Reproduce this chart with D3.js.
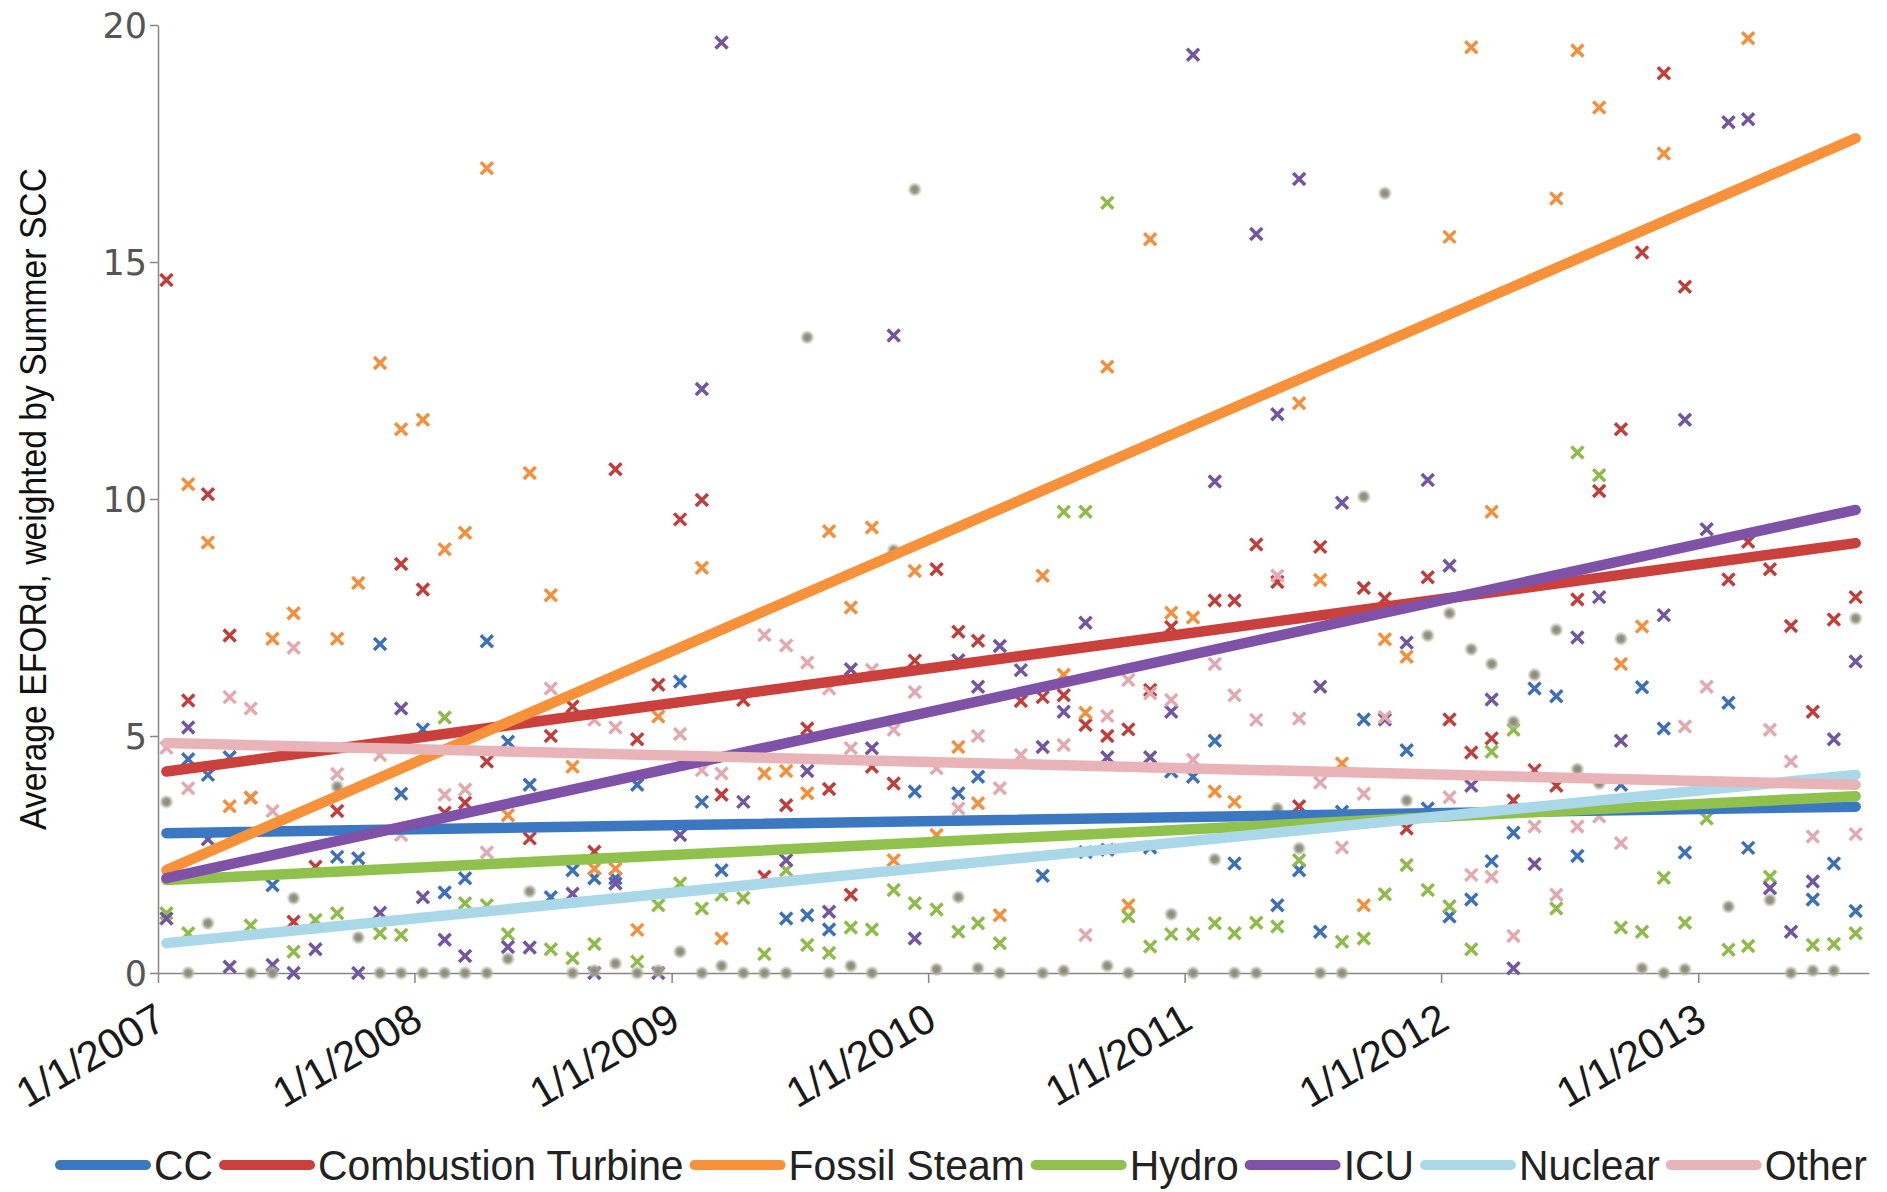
<!DOCTYPE html>
<html>
<head>
<meta charset="utf-8">
<script src="https://cdn.jsdelivr.net/npm/d3@7"></script>
<style>
  html, body { margin: 0; padding: 0; background: #ffffff; }
  svg { display: block; }
</style>
</head>
<body>
<svg id="chart" width="1887" height="1192"></svg>
<script>
// Monthly observations, Jan 2007 – Aug 2013 (80 months)
const months = d3.range(80).map(i => new Date(2007, i, 13));

const seriesNames = ["CC", "Combustion Turbine", "Fossil Steam", "Hydro", "ICU", "Nuclear", "Other"];

const ccValues = [
  null, 4.51, 4.18, 4.55, null, 1.85, null, null, 2.45, 2.42,
  6.94, 3.78, 5.14, 1.7, 2.0, 7.0, 4.88, 3.97, 1.6, 2.17,
  2.0, 2.0, 3.97, null, 6.15, 3.61, 2.17, null, null, 1.15,
  1.22, 0.92, null, null, null, 3.83, null, 3.79, 4.14, null,
  null, 2.05, null, 2.55, 2.6, null, 2.65, 4.25, 4.14, 4.9,
  2.31, null, 1.43, 2.17, 0.87, 3.4, 5.35, null, 4.7, 3.47,
  1.19, 1.55, 2.36, 2.96, 6.0, 5.84, 2.47, null, 3.97, 6.03,
  5.16, 2.54, null, 5.7, 2.64, null, null, 1.55, 2.31, 1.31
];

const ctValues = [
  14.62, 5.75, 10.1, 7.12, 3.7, null, 1.08, 2.24, 3.42, null,
  null, 8.63, 8.09, 3.38, 3.59, 4.46, null, 2.84, 5.0, 5.62,
  2.56, 10.63, 4.93, 6.08, 9.57, 9.98, 3.76, 5.76, 2.03, 3.54,
  5.16, 3.88, 1.65, 4.35, 4.0, 6.59, 8.52, 7.2, 7.01, null,
  5.74, 5.82, 5.86, 5.23, 5.0, 5.14, 5.97, 7.3, null, 7.86,
  7.86, 9.04, 8.25, 3.52, 8.99, null, 8.12, 7.9, 3.05, 8.35,
  5.35, 4.65, 4.95, 3.64, 4.28, 3.95, 7.88, 10.17, 11.47, 15.2,
  18.98, 14.48, null, 8.3, 9.1, 8.52, 7.32, 5.51, 7.46, 7.93
];

const fsValues = [
  null, 10.31, 9.08, 3.52, 3.7, 7.05, 7.59, null, 7.05, 8.23,
  12.87, 11.47, 11.67, 8.94, 9.29, 16.98, 3.33, 10.55, 7.97, 4.35,
  2.2, 2.2, 0.91, 5.41, null, 8.55, 0.73, null, 4.21, 4.26,
  3.79, 9.32, 7.71, 9.4, 2.38, 8.48, 2.91, 4.77, 3.58, 1.22,
  null, 8.38, 6.29, 5.49, 12.79, 1.43, 15.48, 7.6, 7.5, 3.83,
  3.61, null, null, 12.02, 8.29, 4.42, 1.43, 7.04, 6.67, null,
  15.53, 19.53, 9.73, null, null, 16.34, 19.46, 18.26, 6.52, 7.31,
  17.29, null, null, null, 19.72, null, null, null, null, null
];

const hydroValues = [
  1.26, 0.84, null, null, 1.0, null, 0.45, 1.12, 1.26, null,
  0.84, 0.8, null, 5.39, 1.47, 1.43, 0.82, null, 0.5, 0.31,
  0.61, null, 0.24, 1.43, 1.89, 1.36, 1.65, 1.58, 0.4, 2.17,
  0.59, 0.42, 0.96, 0.92, 1.75, 1.47, 1.34, 0.87, 1.05, 0.63,
  null, null, 9.73, 9.73, 16.25, 1.19, 0.56, 0.82, 0.82, 1.05,
  0.84, 1.06, 0.98, 2.38, null, 0.66, 0.73, 1.66, 2.28, 1.75,
  1.41, 0.5, 4.67, 5.13, null, 1.36, 10.98, 10.5, 0.96, 0.87,
  2.01, 1.06, 3.26, 0.49, 0.57, 2.03, null, 0.59, 0.61, 0.84
];

const icuValues = [
  1.15, 5.18, 2.82, 0.13, null, 0.17, 0.0, 0.5, null, 0.0,
  1.27, 5.58, 1.6, 0.7, 0.36, null, 0.55, 0.54, null, 1.67,
  0.0, 1.89, null, 0.0, 2.91, 12.32, 19.63, 3.61, null, 2.38,
  4.26, 1.29, 6.41, 4.74, 13.45, 0.73, null, 6.6, 6.04, 6.9,
  6.39, 4.77, 5.51, 7.39, 4.55, null, 4.55, 5.51, 19.37, 10.37,
  null, 15.59, 11.79, 16.75, 6.04, 9.92, null, 5.35, 6.97, 10.4,
  8.59, 3.95, 5.77, 0.1, 2.3, null, 7.08, 7.93, 4.9, null,
  7.55, 11.67, 9.36, 17.95, 18.01, 1.79, 0.87, 1.93, 4.93, 6.57
];

const nuclearValues = [
  3.61, 0, 1.05, null, 0, 0, 1.58, null, 3.93, 0.75,
  0, 0, 0, 0, 0, 0, 0.3, 1.72, null, 0,
  0.05, 0.2, 0, 0.05, 0.45, 0, 0.15, 0, 0, 0,
  13.41, 0, 0.15, 0, 8.92, 16.53, 0.08, 1.6, 0.1, 0,
  null, 0, 0.05, null, 0.15, 0, null, 1.24, 0, 2.4,
  0, 0, 3.47, 2.63, 0, 0, 10.05, 16.45, 3.64, 7.12,
  7.59, 6.83, 6.52, 5.3, 6.29, 7.24, 4.3, 4.0, 7.05, 0.1,
  0, 0.08, null, 1.4, null, 1.54, 0, 0.05, 0.05, 7.48
];

const otherValues = [
  4.75, 3.9, null, 5.82, 5.58, 3.42, 6.86, null, 4.2, null,
  4.6, 2.91, null, 3.76, 3.87, 2.54, null, null, 6.0, null,
  5.34, 5.18, null, null, 5.04, 4.28, 4.21, null, 7.13, 6.91,
  6.55, 6.0, 4.74, 6.4, 5.13, 5.93, 4.32, 3.47, 5.0, 3.9,
  4.6, null, 4.81, 0.8, 5.42, 6.18, 5.9, 5.76, 4.5, 6.52,
  5.86, 5.34, 8.38, 5.37, 4.02, 2.65, 3.78, 5.4, null, null,
  3.71, 2.07, 2.03, 0.78, 3.09, 1.65, 3.09, 3.3, 2.74, null,
  null, 5.2, 6.04, null, null, 5.13, 4.46, 2.88, null, 2.93
];

// Linear trend values at the first and last month of each series
const trendStart = [2.95, 4.25, 2.17, 1.96, 2.0, 0.63, 4.85];
const trendEnd   = [3.51, 9.07, 17.61, 3.73, 9.77, 4.18, 3.97];

const yTickValues = [0, 5, 10, 15, 20];
const xTickDates = [2007, 2008, 2009, 2010, 2011, 2012, 2013].map(yr => new Date(yr, 0, 1));
const xTickLabels = ["1/1/2007", "1/1/2008", "1/1/2009", "1/1/2010", "1/1/2011", "1/1/2012", "1/1/2013"];

const allValues = [ccValues, ctValues, fsValues, hydroValues, icuValues, nuclearValues, otherValues];

const markerColors = ["#3d70b8", "#be3f3c", "#f2903e", "#8fbb4b", "#7356a0", "#9a9a88", "#e2aab0"];
const lineColors   = ["#3b78c1", "#c9403d", "#f8923a", "#8fc14c", "#7f52a8", "#aad8e8", "#e8b4b8"];

const svg = d3.select("#chart");

const x = d3.scaleTime()
  .domain([new Date(2007, 0, 1), new Date(2013, 8, 1)])
  .range([158, 1869]);
const y = d3.scaleLinear().domain([0, 20]).range([973, 25]);

// soft round marker used for the nuclear series
const defs = svg.append("defs");
const grad = defs.append("radialGradient").attr("id", "nucDot");
grad.append("stop").attr("offset", "0%").attr("stop-color", "#8c8470");
grad.append("stop").attr("offset", "50%").attr("stop-color", "#9a9c8a");
grad.append("stop").attr("offset", "100%").attr("stop-color", "#c8ccc0").attr("stop-opacity", 0.3);

// axes
const yAxis = d3.axisLeft(y).tickValues(yTickValues).tickSize(8).tickSizeOuter(0).tickPadding(3);
const gy = svg.append("g").attr("transform", "translate(158,0)").call(yAxis);
gy.select(".domain").attr("stroke", "#868686").attr("stroke-width", 1.5);
gy.selectAll(".tick line").attr("stroke", "#868686").attr("stroke-width", 1.5);
gy.selectAll(".tick text")
  .attr("font-family", "'DejaVu Sans', Verdana, sans-serif")
  .attr("font-size", 35)
  .attr("fill", "#555555")
  .attr("dy", "0.36em");

const xAxis = d3.axisBottom(x).tickValues(xTickDates)
  .tickFormat((d, i) => xTickLabels[i]).tickSize(10).tickSizeOuter(0);
const gx = svg.append("g").attr("transform", "translate(0,973)").call(xAxis);
gx.select(".domain").attr("stroke", "#868686").attr("stroke-width", 1.5);
gx.selectAll(".tick line").attr("stroke", "#868686").attr("stroke-width", 1.5);
gx.selectAll(".tick text")
  .attr("x", 0).attr("y", 0).attr("dy", 0)
  .attr("text-anchor", "end")
  .attr("transform", "translate(10,54) rotate(-30)")
  .attr("font-family", "'Liberation Sans', Arial, sans-serif")
  .attr("font-size", 42)
  .attr("fill", "#1a1a1a");

// axis title
svg.append("text")
  .attr("transform", "translate(46,499) rotate(-90)")
  .attr("text-anchor", "middle")
  .attr("font-family", "'Liberation Sans', Arial, sans-serif")
  .attr("font-size", 37)
  .attr("fill", "#111111")
  .attr("textLength", 662)
  .attr("lengthAdjust", "spacingAndGlyphs")
  .text("Average EFORd, weighted by Summer SCC");

// scatter markers
const plot = svg.append("g");
allValues.forEach((vals, s) => {
  const pts = vals.map((v, i) => ({ d: months[i], v })).filter(p => p.v !== null);
  const g = plot.append("g");
  if (seriesNames[s] === "Nuclear") {
    g.selectAll("circle").data(pts).join("circle")
      .attr("cx", p => x(p.d)).attr("cy", p => y(p.v))
      .attr("r", 7)
      .attr("fill", "url(#nucDot)");
  } else {
    g.selectAll("path").data(pts).join("path")
      .attr("transform", p => `translate(${x(p.d)},${y(p.v)})`)
      .attr("d", "M-6,-6L6,6M-6,6L6,-6")
      .attr("stroke", markerColors[s])
      .attr("stroke-width", 3.5)
      .attr("fill", "none");
  }
});

// trend lines
const trendLine = d3.line().x(p => x(p.d)).y(p => y(p.v));
seriesNames.forEach((name, s) => {
  plot.append("path")
    .datum([{ d: months[0], v: trendStart[s] }, { d: months[months.length - 1], v: trendEnd[s] }])
    .attr("d", trendLine)
    .attr("stroke", lineColors[s])
    .attr("stroke-width", 10.5)
    .attr("stroke-linecap", "round")
    .attr("fill", "none");
});

// legend: tall, slightly narrowed labels
const legend = svg.append("g").attr("transform", "translate(0,1165)");
let cursor = 60;
seriesNames.forEach((name, s) => {
  legend.append("line")
    .attr("x1", cursor).attr("x2", cursor + 86)
    .attr("y1", 0).attr("y2", 0)
    .attr("stroke", lineColors[s])
    .attr("stroke-width", 10)
    .attr("stroke-linecap", "round");
  const t = legend.append("text")
    .attr("x", cursor + 94).attr("y", 0).attr("dy", "0.36em")
    .attr("font-family", "'Liberation Sans', Arial, sans-serif")
    .attr("font-size", 43)
    .attr("fill", "#222222")
    .text(name);
  const w = t.node().getComputedTextLength() * 0.95;
  t.attr("textLength", w).attr("lengthAdjust", "spacingAndGlyphs");
  cursor += 94 + w + 11;
});
</script>
</body>
</html>
